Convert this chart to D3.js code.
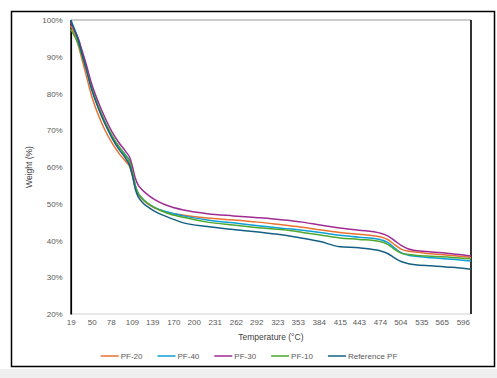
<!DOCTYPE html>
<html>
<head>
<meta charset="utf-8">
<script src="https://cdn.jsdelivr.net/npm/d3@7"></script>
<style>
  html, body { margin: 0; padding: 0; background: #ffffff; }
  svg { display: block; }
  text { font-family: "Liberation Sans", Arial, sans-serif; }
</style>
</head>
<body>
<svg id="chart" width="497" height="378"></svg>
<script>
// ---------- DATA ----------
const temperatures = [19, 24, 30, 36, 42, 50, 60, 70, 80, 90, 100, 106, 110, 114, 118, 124, 132, 142, 160, 185, 220, 258, 295, 332, 360, 386, 415, 443, 474, 486, 496, 506, 516, 526, 550, 580, 608];

const pf20 = [98.5, 96.5, 93.2, 89.0, 84.8, 79.2, 74.0, 69.8, 66.5, 63.7, 61.5, 60.0, 57.5, 54.5, 52.7, 51.3, 50.0, 48.9, 47.7, 46.9, 46.1, 45.6, 45.0, 44.2, 43.6, 42.9, 42.2, 41.7, 41.0, 40.2, 38.8, 37.6, 37.1, 36.9, 36.4, 35.9, 35.4];
const pf40 = [100, 97.8, 95.0, 91.0, 87.0, 81.5, 76.3, 72.0, 68.3, 65.5, 63.2, 61.5, 58.5, 55.0, 53.0, 51.5, 50.2, 49.0, 47.8, 46.7, 45.6, 44.8, 44.0, 43.3, 42.8, 42.2, 41.4, 40.9, 40.3, 39.4, 37.9, 36.6, 36.0, 35.7, 35.3, 34.9, 34.4];
const pf30 = [99.5, 97.5, 95.0, 91.5, 87.8, 82.5, 77.5, 73.2, 69.5, 66.6, 64.2, 62.5, 60.0, 57.0, 55.2, 53.8, 52.5, 51.2, 49.6, 48.3, 47.3, 46.7, 46.2, 45.6, 45.0, 44.2, 43.4, 42.8, 42.0, 41.2, 39.9, 38.6, 37.7, 37.3, 36.9, 36.4, 35.8];
const pf10 = [97.5, 95.8, 93.5, 90.0, 86.5, 81.3, 76.3, 72.0, 68.5, 65.5, 63.0, 61.2, 58.5, 55.0, 53.0, 51.5, 50.2, 49.0, 47.5, 46.3, 45.0, 44.2, 43.5, 42.9, 42.2, 41.5, 40.7, 40.3, 39.7, 38.9, 37.5, 36.5, 36.2, 36.0, 35.7, 35.4, 35.0];
const refPF = [100, 97.5, 94.5, 90.5, 86.5, 81.0, 75.8, 71.5, 67.8, 64.8, 62.3, 60.3, 57.5, 54.0, 52.0, 50.5, 49.2, 48.0, 46.5, 44.8, 43.8, 43.0, 42.3, 41.5, 40.6, 39.7, 38.3, 38.0, 37.2, 36.4, 35.2, 34.2, 33.7, 33.4, 33.1, 32.7, 32.2];

const seriesNames = ["PF-20", "PF-40", "PF-30", "PF-10", "Reference PF"];
const seriesValues = [pf20, pf40, pf30, pf10, refPF];
const seriesColors = ["#E97132", "#0F9ED5", "#A02B93", "#4EA72E", "#156082"];

const xTickLabels = [19, 50, 78, 109, 139, 170, 200, 231, 262, 292, 323, 353, 384, 415, 443, 474, 504, 535, 565, 596];
const yTicks = [20, 30, 40, 50, 60, 70, 80, 90, 100];

const xTitle = "Temperature (°C)";
const yTitle = "Weight (%)";

// ---------- DRAW ----------
const svg = d3.select("#chart");
const W = 497, H = 378;

// gray band at bottom
svg.append("rect").attr("x", 0).attr("y", 369).attr("width", W).attr("height", H - 369).attr("fill", "#efefef");
// outer frame
svg.append("rect").attr("x", 11.5).attr("y", 11.5).attr("width", 483).attr("height", 355)
  .attr("fill", "#ffffff").attr("stroke", "#000000").attr("stroke-width", 1.5);

const plot = { left: 70.7, right: 471, top: 20, bottom: 314 };

const x = d3.scaleLinear().domain([19, 608]).range([plot.left, plot.right]);
const y = d3.scaleLinear().domain([20, 100]).range([plot.bottom, plot.top]);

// plot area borders
svg.append("line").attr("x1", plot.left).attr("x2", plot.right).attr("y1", plot.top).attr("y2", plot.top)
  .attr("stroke", "#9a9a9a").attr("stroke-width", 1.2);
svg.append("line").attr("x1", plot.left).attr("x2", plot.right).attr("y1", plot.bottom).attr("y2", plot.bottom)
  .attr("stroke", "#d0d0d0").attr("stroke-width", 1);
svg.append("line").attr("x1", plot.right).attr("x2", plot.right).attr("y1", plot.top).attr("y2", plot.bottom)
  .attr("stroke", "#000000").attr("stroke-width", 1.6);

// Y axis
const yAxis = d3.axisLeft(y).tickValues(yTicks).tickFormat(d => d + "%").tickSize(0).tickPadding(8);
const gy = svg.append("g").attr("transform", `translate(${plot.left},0)`).call(yAxis);
gy.select(".domain").attr("stroke", "#000000").attr("stroke-width", 1.8);
gy.selectAll("text").attr("font-size", 8).attr("fill", "#595959")
  .attr("font-family", "'Liberation Sans', Arial, sans-serif");

// X axis
const xAxis = d3.axisBottom(x).tickValues(xTickLabels).tickFormat(d => d).tickSize(0).tickPadding(5);
const gx = svg.append("g").attr("transform", `translate(0,${plot.bottom})`).call(xAxis);
gx.select(".domain").remove();
gx.selectAll("text").attr("font-size", 8).attr("fill", "#595959")
  .attr("font-family", "'Liberation Sans', Arial, sans-serif");

// lines
const line = d3.line()
  .x((d, i) => x(temperatures[i]))
  .y(d => y(d))
  .curve(d3.curveMonotoneX);

seriesValues.forEach((vals, k) => {
  svg.append("path")
    .datum(vals)
    .attr("d", line)
    .attr("fill", "none")
    .attr("stroke", seriesColors[k])
    .attr("stroke-width", 1.5)
    .attr("stroke-linejoin", "round");
});

// axis titles
svg.append("text").attr("x", (plot.left + plot.right) / 2).attr("y", 340)
  .attr("text-anchor", "middle").attr("font-size", 8.5).attr("fill", "#404040").text(xTitle);
svg.append("text").attr("transform", `translate(32,${(plot.top + plot.bottom) / 2}) rotate(-90)`)
  .attr("text-anchor", "middle").attr("font-size", 8.5).attr("fill", "#404040").text(yTitle);

// legend
const legendY = 356;
const legend = svg.append("g");
const lineLen = 18, gapText = 2, gapItem = 15;
let cursor = 0;
seriesNames.forEach((name, k) => {
  const g = legend.append("g");
  g.append("line").attr("x1", 0).attr("x2", lineLen).attr("y1", 0).attr("y2", 0)
    .attr("stroke", seriesColors[k]).attr("stroke-width", 1.5);
  const t = g.append("text").attr("x", lineLen + gapText).attr("y", 3)
    .attr("font-size", 8).attr("fill", "#595959").text(name);
  const w = lineLen + gapText + t.node().getComputedTextLength();
  g.attr("transform", `translate(${cursor},${legendY})`);
  cursor += w + gapItem;
});
const totalW = cursor - gapItem;
legend.attr("transform", `translate(${249 - totalW / 2},0)`);
</script>
</body>
</html>
